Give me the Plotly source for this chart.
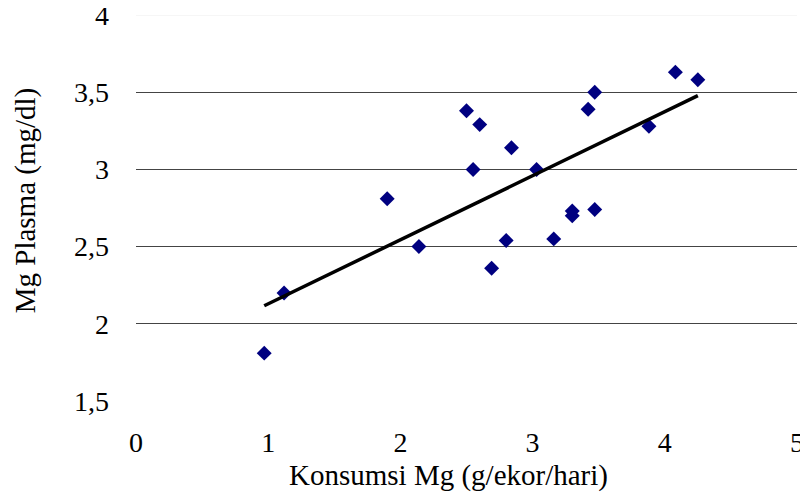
import numpy as np
import plotly.graph_objects as go

konsumsi = [0.97, 1.12, 1.90, 2.14, 2.50, 2.60, 2.55, 2.84, 2.80, 2.69,
            3.03, 3.16, 3.30, 3.30, 3.47, 3.42, 3.47, 3.88, 4.08, 4.25]
plasma = [1.81, 2.20, 2.81, 2.50, 3.38, 3.29, 3.00, 3.14, 2.54, 2.36,
          3.00, 2.55, 2.73, 2.70, 2.74, 3.39, 3.50, 3.28, 3.63, 3.58]

x_ticks = [0, 1, 2, 3, 4, 5]
y_ticks = [1.5, 2, 2.5, 3, 3.5, 4]

slope, intercept = np.polyfit(konsumsi, plasma, 1)
tx = [min(konsumsi), max(konsumsi)]
ty = [slope * v + intercept for v in tx]

fig = go.Figure()
fig.add_trace(go.Scatter(x=konsumsi, y=plasma, mode="markers",
                         marker=dict(symbol="diamond", size=11.5, color="#000080"),
                         showlegend=False))
fig.add_trace(go.Scatter(x=tx, y=ty, mode="lines",
                         line=dict(color="black", width=3.5), showlegend=False))

font = "Liberation Serif, Times New Roman, serif"
fig.update_layout(
    width=800, height=486,
    margin=dict(l=128, r=11, t=7, b=93),
    paper_bgcolor="white", plot_bgcolor="white",
    separators=",.",
    font=dict(family=font, size=28, color="black"),
    xaxis=dict(range=[0, 5], tickvals=x_ticks, showgrid=False, zeroline=False,
               showline=False, ticks="", ticklabelstandoff=22, automargin=False,
               ticklabeloverflow="allow"),
    yaxis=dict(range=[1.5, 4], tickvals=y_ticks, showgrid=True, gridcolor="#444",
               gridwidth=1, zeroline=False, showline=False, ticks="",
               ticklabelstandoff=26, automargin=False, ticklabeloverflow="allow"),
    annotations=[
        dict(text="Konsumsi Mg (g/ekor/hari)", xref="paper", yref="paper",
             x=0.4735, y=0, yshift=-74, showarrow=False, font=dict(size=29),
             xanchor="center", yanchor="middle"),
        dict(text="Mg Plasma (mg/dl)", xref="paper", yref="paper",
             x=0, y=0.52, xshift=-111, showarrow=False, font=dict(size=29),
             textangle=-90, xanchor="center", yanchor="middle"),
    ],
    shapes=[dict(type="line", xref="paper", yref="y", x0=0, x1=1, y0=4, y1=4,
                 line=dict(color="#eeeeee", width=1), layer="above")],
)
fig.write_html("out.html")
